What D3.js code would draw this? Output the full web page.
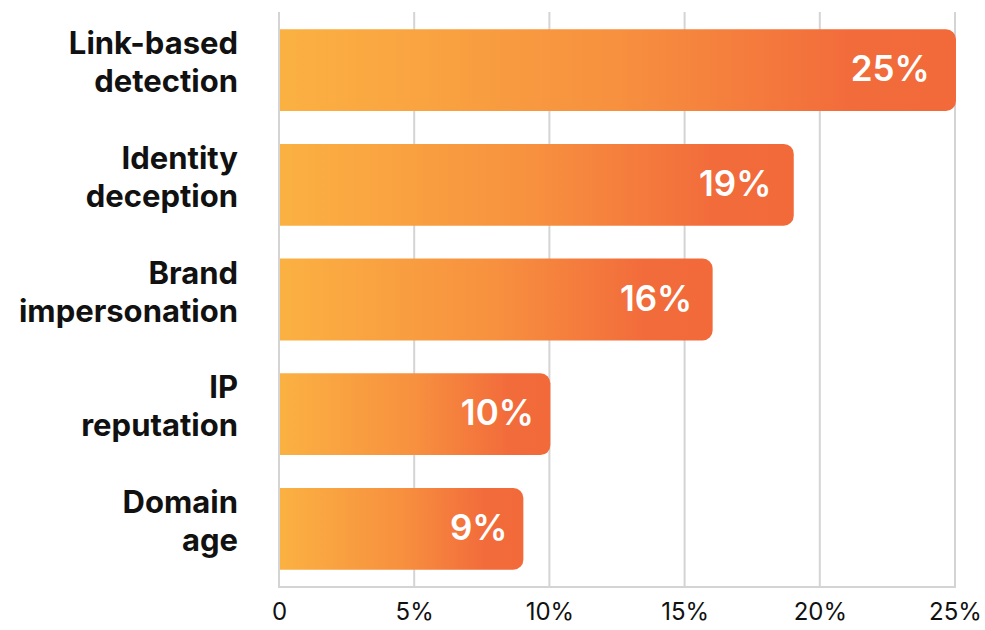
<!DOCTYPE html>
<html lang="en">
<head>
    <meta charset="utf-8">
    <title>Detection methods</title>
    <script src="https://d3js.org/d3.v7.min.js"></script>
    <style>
        body { margin: 0; background: #fff; }
        text { font-family: Inter, "Noto Sans", sans-serif; }
        .cat { font-size: 31px; font-weight: 700; fill: #111; text-anchor: end; }
        .val { font-size: 35px; font-weight: 600; fill: #fff; text-anchor: end; }
        .tick text { font-size: 24px; font-weight: 400; fill: #111; }
    </style>
</head>
<body>
<div id="chart"></div>
<script>
    // data
    var categories = [
        ["Link-based", "detection"],
        ["Identity", "deception"],
        ["Brand", "impersonation"],
        ["IP", "reputation"],
        ["Domain", "age"]
    ];
    var values = [25, 19, 16, 10, 9];
    var ticks = [0, 5, 10, 15, 20, 25];
    var tickLabels = ["0", "5%", "10%", "15%", "20%", "25%"];

    var w = 985, h = 630;

    var svg = d3.select("#chart").append("svg")
        .attr("width", w)
        .attr("height", h);

    var x = d3.scaleLinear().domain([0, 25]).range([280, 956]);

    var y = d3.scaleBand()
        .domain(d3.range(values.length))
        .range([12, 587])
        .paddingInner(0.287)
        .paddingOuter(0.15);

    // gradient per bar
    var grad = svg.append("defs").append("linearGradient")
        .attr("id", "barGrad")
        .attr("x1", "0").attr("x2", "1").attr("y1", "0").attr("y2", "0");
    grad.append("stop").attr("offset", "0").attr("stop-color", "#fbb142");
    grad.append("stop").attr("offset", "0.5").attr("stop-color", "#f7903f");
    grad.append("stop").attr("offset", "0.85").attr("stop-color", "#f26b3b");
    grad.append("stop").attr("offset", "1").attr("stop-color", "#f26a3a");

    // gridlines
    svg.selectAll("line.grid")
        .data(ticks)
        .enter()
        .append("line")
        .attr("class", "grid")
        .attr("x1", function (d) { return x(d) - 1; })
        .attr("x2", function (d) { return x(d) - 1; })
        .attr("y1", 12)
        .attr("y2", 588)
        .attr("stroke", "#d4d4d4")
        .attr("stroke-width", 2);

    svg.append("line")
        .attr("x1", x(0) - 2).attr("x2", x(25))
        .attr("y1", 587).attr("y2", 587)
        .attr("stroke", "#d4d4d4")
        .attr("stroke-width", 2);

    // bars: square on the left, rounded on the right
    var r = 10;
    function barPath(v, i) {
        var x0 = x(0), x1 = x(v), y0 = y(i), y1 = y(i) + y.bandwidth();
        return "M" + x0 + "," + y0 +
            "H" + (x1 - r) +
            "A" + r + "," + r + " 0 0 1 " + x1 + "," + (y0 + r) +
            "V" + (y1 - r) +
            "A" + r + "," + r + " 0 0 1 " + (x1 - r) + "," + y1 +
            "H" + x0 + "Z";
    }

    svg.selectAll("path.bar")
        .data(values)
        .enter()
        .append("path")
        .attr("class", "bar")
        .attr("d", function (d, i) { return barPath(d, i); })
        .attr("fill", "url(#barGrad)");

    // value labels (inset grows a little with bar length)
    svg.selectAll("text.val")
        .data(values)
        .enter()
        .append("text")
        .attr("class", "val")
        .attr("x", function (d) { return x(d) - (10 + 0.65 * d); })
        .attr("y", function (d, i) { return y(i) + y.bandwidth() / 2 + 11; })
        .text(function (d) { return d + "%"; });

    // category labels, two lines each
    var cat = svg.selectAll("text.cat")
        .data(categories)
        .enter()
        .append("text")
        .attr("class", "cat")
        .attr("x", 238)
        .attr("y", function (d, i) { return y(i) + y.bandwidth() / 2 - 16; });
    cat.selectAll("tspan")
        .data(function (d) { return d; })
        .enter()
        .append("tspan")
        .attr("x", 238)
        .attr("dy", function (d, j) { return j === 0 ? 0 : 38; })
        .text(function (d) { return d; });

    // x axis labels
    var axis = d3.axisBottom(x)
        .tickValues(ticks)
        .tickFormat(function (d, i) { return tickLabels[i]; })
        .tickSize(0)
        .tickPadding(0);

    var ax = svg.append("g")
        .attr("transform", "translate(-1,603)")
        .call(axis);
    ax.select(".domain").remove();
    ax.selectAll(".tick text").attr("dy", "0.71em");
</script>
</body>
</html>
